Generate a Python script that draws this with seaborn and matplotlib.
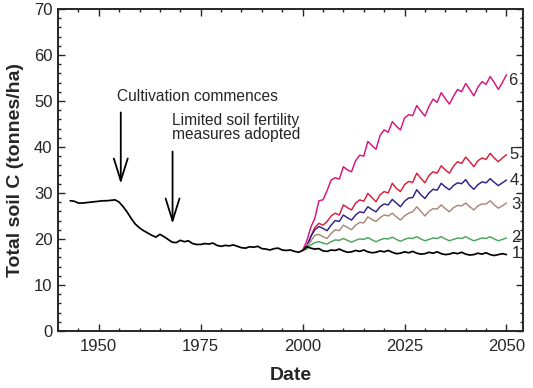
import pandas as pd
import matplotlib
matplotlib.use("Agg")
import matplotlib.pyplot as plt
from matplotlib.ticker import MultipleLocator
import seaborn as sns

# ==================== DATA ====================
years_hist = list(range(1943, 2051))
years_scen = list(range(2000, 2051))

# scenario 1 (current practice), 1943-2050
soil_c_1 = [
    28.3, 28.2, 27.8, 27.8, 27.9, 28.0, 28.1, 28.2, 28.3, 28.3,  # 1943-1952
    28.4, 28.5, 28.0, 27.0, 25.8, 24.4, 23.2, 22.4, 21.8, 21.3,  # 1953-1962
    20.8, 20.4, 21.0, 20.5, 19.9, 19.3, 19.2, 19.7, 19.4, 19.6,  # 1963-1972
    19.0, 18.8, 18.8, 19.0, 18.9, 19.1, 18.6, 18.4, 18.6, 18.5,  # 1973-1982
    18.7, 18.4, 18.1, 18.0, 18.3, 18.2, 18.4, 17.9, 17.8, 17.6,  # 1983-1992
    17.9, 18.0, 17.6, 17.5, 17.6, 17.3, 17.1, 17.5,              # 1993-2000
    18.3, 18.0, 17.8, 17.9, 17.4, 17.3, 17.6, 17.5, 17.8, 17.4,  # 2001-2010
    17.1, 17.2, 17.5, 17.3, 17.6, 17.2, 17.0, 17.1, 17.4, 17.2,  # 2011-2020
    17.5, 17.1, 16.8, 16.9, 17.2, 17.0, 17.3, 16.9, 16.7, 16.8,  # 2021-2030
    17.1, 16.9, 17.2, 16.8, 16.6, 16.7, 17.0, 16.8, 17.1, 16.7,  # 2031-2040
    16.5, 16.6, 16.9, 16.7, 17.0, 16.6, 16.4, 16.6, 16.8, 16.6,  # 2041-2050
]

# scenarios 2-6, 2000-2050
soil_c_2 = [
    17.5, 18.0, 18.7, 19.2, 19.4, 19.1, 18.9, 19.4, 19.8, 19.7,
    20.1, 19.7, 19.3, 19.7, 20.0, 19.9, 20.3, 19.8, 19.4, 19.8,
    20.1, 20.0, 20.4, 19.9, 19.5, 19.9, 20.2, 20.1, 20.5, 20.0,
    19.6, 19.9, 20.2, 20.1, 20.5, 20.0, 19.6, 19.9, 20.2, 20.1,
    20.5, 20.0, 19.6, 19.9, 20.2, 20.1, 20.5, 20.0, 19.6, 19.9,
    20.2,
]
soil_c_3 = [
    17.5, 18.3, 19.5, 20.8, 21.0, 20.5, 20.1, 21.2, 22.0, 21.8,
    23.0, 22.5, 22.0, 23.0, 23.6, 23.5, 24.8, 24.2, 23.8, 24.6,
    25.2, 25.0, 25.6, 24.8, 24.1, 25.0, 25.6, 25.9, 27.0, 26.0,
    25.0, 26.0, 26.6, 26.5, 27.4, 26.6, 25.9, 26.8, 27.3, 27.2,
    27.8, 27.0, 26.3, 27.2, 27.6, 27.6, 28.3, 27.4, 26.7, 27.2,
    27.8,
]
soil_c_4 = [
    17.5, 18.5, 20.5, 22.0, 22.7, 22.3, 21.8, 23.0, 24.0, 23.8,
    25.2, 24.6, 24.1, 25.2, 25.9, 25.7, 27.0, 26.4, 25.9, 27.0,
    27.6, 27.4, 28.6, 27.8, 27.0, 28.2, 28.9, 29.0, 30.7, 29.6,
    28.8, 30.0, 30.8, 30.6, 32.1, 31.3, 30.7, 31.6, 32.2, 32.0,
    32.9, 31.6, 30.8, 31.8, 32.4, 32.2, 33.1, 32.3, 31.6, 32.2,
    32.8,
]
soil_c_5 = [
    17.5, 17.8, 20.5, 22.5, 23.4, 23.0, 23.8, 25.0, 25.6, 25.2,
    27.4, 26.8, 26.3, 27.8, 28.5, 28.2, 29.9, 29.0, 28.1, 29.6,
    30.3, 30.0, 32.1, 31.0, 30.3, 31.8, 32.5, 32.3, 34.3, 33.2,
    32.2, 33.8, 34.6, 34.3, 35.9, 35.0, 34.3, 35.8, 36.8, 36.4,
    37.8, 36.8, 35.7, 37.0, 37.6, 37.3, 38.6, 37.6, 36.8, 37.6,
    38.3,
]
soil_c_6 = [
    17.5, 19.5, 22.5, 24.5, 28.3, 28.5, 30.5, 32.8, 33.3, 33.0,
    35.7, 35.0, 34.6, 37.0, 38.2, 38.0, 41.2, 40.3, 39.5, 42.5,
    43.7, 43.2, 45.5, 44.5, 43.7, 46.3, 47.0, 46.8, 49.0, 47.8,
    46.7, 48.8, 50.4, 49.7, 51.8, 50.5, 49.3, 51.0, 52.5, 52.0,
    53.8, 52.5, 51.1, 53.0, 54.2, 53.6, 55.3, 54.0, 52.5, 54.0,
    55.7,
]

scenario_labels = ["1", "2", "3", "4", "5", "6"]
scenario_colors = ["black", "#4aa55c", "#a9887c", "#2e2188", "#d71f3e", "#d4157d"]

# ==================== BUILD TABLE ====================
frames = [pd.DataFrame({"year": years_hist, "carbon": soil_c_1, "scenario": "1"})]
for lab, vals in zip(scenario_labels[1:], [soil_c_2, soil_c_3, soil_c_4, soil_c_5, soil_c_6]):
    frames.append(pd.DataFrame({"year": years_scen, "carbon": vals, "scenario": lab}))
df = pd.concat(frames, ignore_index=True)

# ==================== PLOT ====================
sns.set_style("ticks")
plt.rcParams["font.family"] = ["Liberation Sans", "DejaVu Sans"]

fig = plt.figure(figsize=(5.33, 3.88), dpi=100)
ax = fig.add_axes([0.1088, 0.147, 0.872, 0.830])

# draw colored scenarios first, black baseline on top
for lab, col in list(zip(scenario_labels, scenario_colors))[::-1]:
    sub = df[df["scenario"] == lab]
    sns.lineplot(data=sub, x="year", y="carbon", color=col,
                 linewidth=1.25 if lab == "1" else 1.05, ax=ax, legend=False)

# end-of-line labels
label_pos = {"1": (2051.2, 16.9), "2": (2051.2, 20.3), "3": (2051.2, 27.5),
             "4": (2050.7, 32.6), "5": (2050.7, 38.3), "6": (2050.3, 54.4)}
for lab in scenario_labels:
    x, y = label_pos[lab]
    ax.text(x, y, lab, fontsize=12, ha="left", va="center")

# annotations with open-headed arrows
arrow = dict(arrowstyle="->,head_length=1.6,head_width=0.5", lw=1.3,
             color="black", shrinkA=0, shrinkB=0, mutation_scale=10)
ax.annotate("", xy=(1955.4, 32.0), xytext=(1955.4, 47.5), arrowprops=arrow)
ax.annotate("", xy=(1968.1, 23.3), xytext=(1968.1, 39.0), arrowprops=arrow)
ax.text(1954.5, 49.3, "Cultivation commences", fontsize=11.2, ha="left", va="bottom")
ax.text(1968.0, 41.0, "Limited soil fertility\nmeasures adopted", fontsize=11.2,
        ha="left", va="bottom", linespacing=0.92)

ax.set_xlim(1940, 2054)
ax.set_ylim(0, 70)
ax.xaxis.set_major_locator(MultipleLocator(25))
ax.xaxis.set_minor_locator(MultipleLocator(5))
ax.yaxis.set_major_locator(MultipleLocator(10))
ax.yaxis.set_minor_locator(MultipleLocator(2))
ax.tick_params(which="both", direction="in", top=True, right=True, width=1, labelsize=12)
ax.tick_params(which="major", length=5)
ax.tick_params(which="minor", length=2.5)
ax.tick_params(axis="x", pad=6)
ax.tick_params(axis="y", pad=4)
for sp in ax.spines.values():
    sp.set_linewidth(1.4)
    sp.set_visible(True)

ax.set_xlabel("Date", fontsize=14, fontweight="bold", labelpad=9)
ax.set_ylabel("Total soil C (tonnes/ha)", fontsize=14, fontweight="bold", labelpad=7)

fig.savefig("out.png", dpi=100)
